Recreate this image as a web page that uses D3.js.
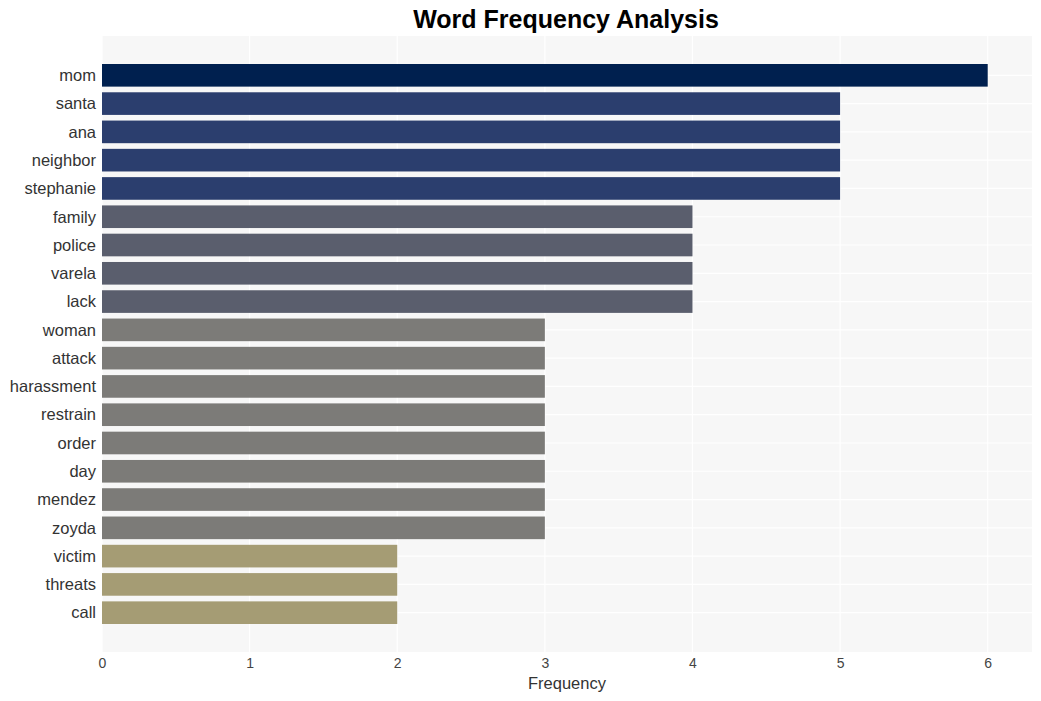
<!DOCTYPE html>
<html><head><meta charset="utf-8">
<script src="https://cdn.jsdelivr.net/npm/d3@7"></script>
<style>body{margin:0;background:#fff;font-family:"Liberation Sans",Arial,sans-serif;}</style>
</head><body><svg id="c" width="1041" height="701"></svg>
<script>
const words = ["mom","santa","ana","neighbor","stephanie","family","police","varela","lack","woman","attack","harassment","restrain","order","day","mendez","zoyda","victim","threats","call"];
const counts = [6,5,5,5,5,4,4,4,4,3,3,3,3,3,3,3,3,2,2,2];
const xTicks = [0,1,2,3,4,5,6];
const colorByCount = {6:"#00204f",5:"#2b3e6e",4:"#5a5e6d",3:"#7c7b78",2:"#a59c74"};

const svg = d3.select("#c");
const L=102,R=1032,T=36,B=652;
const x = d3.scaleLinear().domain([0,6.3]).range([L,R]);
const y = d3.scaleBand().domain(words).range([T,B]).paddingInner(0.2).paddingOuter(0.99);

svg.append("rect").attr("x",L).attr("y",T).attr("width",R-L).attr("height",B-T).attr("fill","#f7f7f7");
svg.append("g").selectAll("line").data(xTicks).join("line")
  .attr("x1",d=>x(d)).attr("x2",d=>x(d)).attr("y1",T).attr("y2",B)
  .attr("stroke","#ffffff").attr("stroke-width",1.2);
svg.append("g").selectAll("line").data(words).join("line")
  .attr("x1",L).attr("x2",R).attr("y1",d=>y(d)+y.bandwidth()/2).attr("y2",d=>y(d)+y.bandwidth()/2)
  .attr("stroke","#ffffff").attr("stroke-width",1.2);

svg.append("g").selectAll("rect").data(words).join("rect")
  .attr("x",x(0)).attr("y",d=>y(d)).attr("height",y.bandwidth())
  .attr("width",(d,i)=>x(counts[i])-x(0))
  .attr("fill",(d,i)=>colorByCount[counts[i]]);

const xa = svg.append("g").attr("transform",`translate(0,${B})`)
  .call(d3.axisBottom(x).tickValues(xTicks).tickSize(0).tickPadding(6).tickFormat(d3.format("d")));
xa.select(".domain").remove();
xa.attr("font-size",null).attr("font-family",null);
xa.selectAll("text").style("font-size","14px").attr("fill","#444").style("font-family","Liberation Sans, Arial, sans-serif");

const ya = svg.append("g").attr("transform",`translate(${L},0)`)
  .call(d3.axisLeft(y).tickSize(0).tickPadding(6));
ya.select(".domain").remove();
ya.attr("font-size",null).attr("font-family",null);
ya.selectAll("text").style("font-size","16.5px").attr("fill","#333").attr("dy","0.35em").style("font-family","Liberation Sans, Arial, sans-serif");

svg.append("text").attr("x",566).attr("y",28).attr("text-anchor","middle")
  .style("font-size","25px").attr("font-weight","bold").attr("fill","#000").text("Word Frequency Analysis");
svg.append("text").attr("x",567).attr("y",689).attr("text-anchor","middle")
  .style("font-size","16.5px").attr("fill","#333").text("Frequency");
</script></body></html>
